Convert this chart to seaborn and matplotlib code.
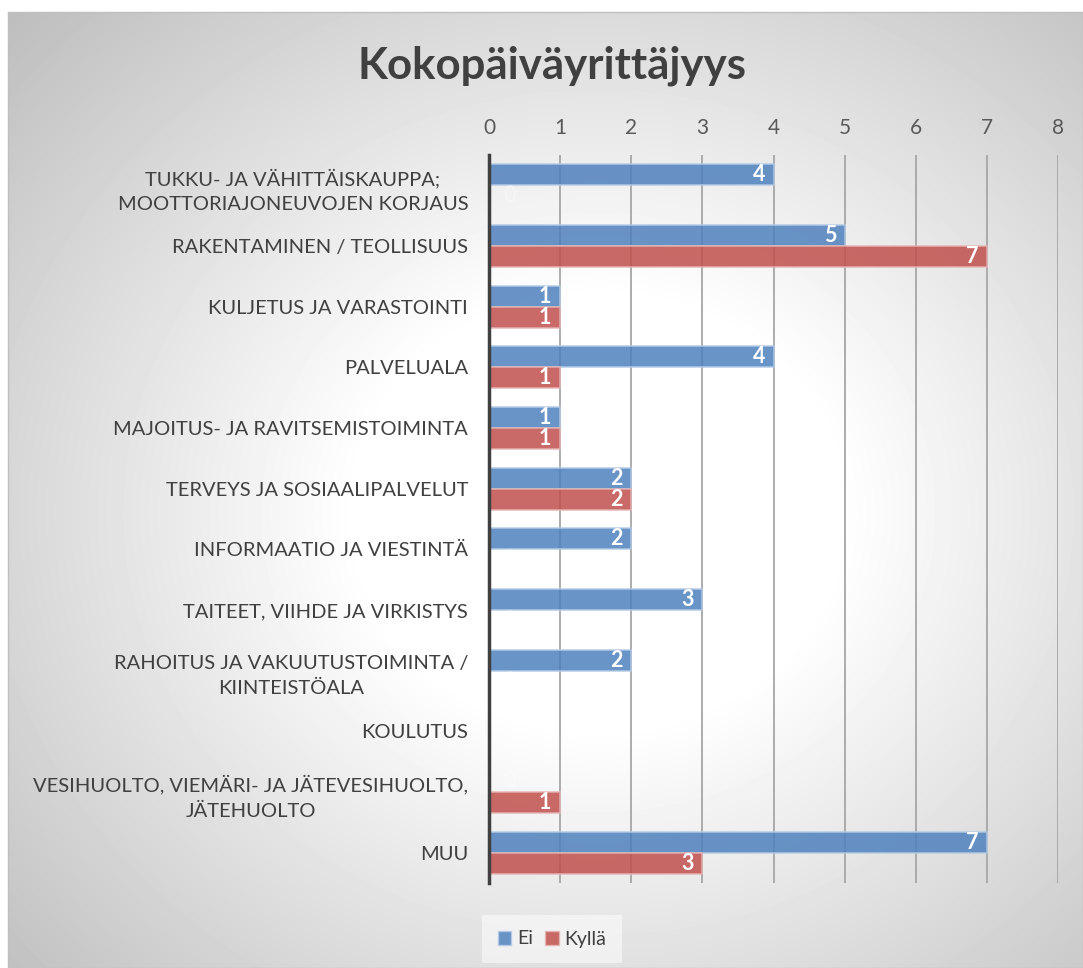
import matplotlib
matplotlib.use("Agg")
import matplotlib.pyplot as plt
import seaborn as sns
import numpy as np
import pandas as pd

# Chart data
categories = [
    "TUKKU- JA VÄHITTÄISKAUPPA;\nMOOTTORIAJONEUVOJEN KORJAUS",
    "RAKENTAMINEN / TEOLLISUUS",
    "KULJETUS JA VARASTOINTI",
    "PALVELUALA",
    "MAJOITUS- JA RAVITSEMISTOIMINTA",
    "TERVEYS JA SOSIAALIPALVELUT",
    "INFORMAATIO JA VIESTINTÄ",
    "TAITEET, VIIHDE JA VIRKISTYS",
    "RAHOITUS JA VAKUUTUSTOIMINTA /\nKIINTEISTÖALA",
    "KOULUTUS",
    "VESIHUOLTO, VIEMÄRI- JA JÄTEVESIHUOLTO,\nJÄTEHUOLTO",
    "MUU",
]
ei_values = [4, 5, 1, 4, 1, 2, 2, 3, 2, 0, 0, 7]
kylla_values = [0, 7, 1, 1, 1, 2, 0, 0, 0, 0, 1, 3]
series_names = ["Ei", "Kyllä"]
x_ticks = [0, 1, 2, 3, 4, 5, 6, 7, 8]

colors = {"Ei": "#4F81BD", "Kyllä": "#C0504D"}
edge_colors = {"Ei": "#b4cae6", "Kyllä": "#e6b4b3"}

df = pd.DataFrame({
    "kategoria": categories * 2,
    "vastaus": [series_names[0]] * len(categories) + [series_names[1]] * len(categories),
    "maara": ei_values + kylla_values,
})

sns.set_style("white")
plt.rcParams["font.family"] = ["Lato", "DejaVu Sans"]

fig = plt.figure(figsize=(10.83, 9.68), dpi=100)

# radial grey background like the office chart style
bg = fig.add_axes([8 / 1083, 0, 1 - 8 / 1083, 1 - 12 / 968], zorder=-5)
h, w = 956, 1075
yy, xx = np.mgrid[0:h, 0:w]
r = np.sqrt(((xx - 590) / (w / 2)) ** 2 + ((yy - 500) / (h / 2)) ** 2)
shade = 255 - 62 * np.clip(r - 0.45, 0, None)
shade = np.clip(shade, 185, 255) / 255
bg.imshow(shade, cmap="gray", vmin=0, vmax=1, aspect="auto", interpolation="bilinear")
bg.set_xticks([])
bg.set_yticks([])
for s in bg.spines.values():
    s.set_color("#bfbfbf")
    s.set_linewidth(1)

ax = fig.add_axes([489 / 1083, 85 / 968, (1058 - 489) / 1083, (883 - 155) / 968])
ax.set_facecolor("none")

sns.barplot(
    data=df, y="kategoria", x="maara", hue="vastaus", hue_order=series_names,
    order=categories, orient="h", palette=colors, saturation=1, width=0.69,
    alpha=0.85, linewidth=1.2, ax=ax, legend=False,
)

for name, cont in zip(series_names, ax.containers):
    for p in cont.patches:
        p.set_edgecolor(edge_colors[name])
        val = p.get_width()
        yc = p.get_y() + p.get_height() / 2
        if val > 0:
            ax.text(val - 0.12, yc, f"{val:.0f}", ha="right", va="center",
                    color="white", fontsize=15.5, fontweight="bold")
        else:
            # zero labels are white on white, barely visible
            ax.text(0.2, yc, "0", ha="left", va="center", alpha=0.3,
                    color="white", fontsize=15.5, fontweight="bold")

ax.set_xlim(0, 8)
ax.set_xticks(x_ticks)
ax.xaxis.tick_top()
ax.tick_params(axis="x", length=0, pad=12, labelsize=15, labelcolor="#595959")
ax.tick_params(axis="y", length=0, pad=15, labelsize=14.5, labelcolor="#404040")
for lbl in ax.get_yticklabels():
    lbl.set_multialignment("center")
    lbl.set_linespacing(1.55)
ax.set_xlabel("")
ax.set_ylabel("")
ax.xaxis.grid(True, color="#a6a6a6", linewidth=1.3)
ax.set_axisbelow(True)
for side in ["top", "right", "bottom"]:
    ax.spines[side].set_visible(False)
ax.spines["left"].set_color("#404040")
ax.spines["left"].set_linewidth(2.5)

fig.text(552 / 1083, 1 - 66 / 968, "Kokopäiväyrittäjyys", ha="center", va="center",
         fontsize=31.5, fontweight="bold", color="#404040")

handles = [plt.Rectangle((0, 0), 1, 1, facecolor=colors[n], alpha=0.85,
                         edgecolor=edge_colors[n]) for n in series_names]
leg = fig.legend(handles, series_names, loc="center", bbox_to_anchor=(552 / 1083, 1 - 939 / 968),
                 ncol=2, fontsize=14, frameon=True, handlelength=0.7, handleheight=0.7,
                 handletextpad=0.3, columnspacing=0.6, borderpad=0.8, fancybox=False)
leg.get_frame().set_facecolor("white")
leg.get_frame().set_alpha(0.5)
leg.get_frame().set_edgecolor("none")
for t in leg.get_texts():
    t.set_color("#404040")

fig.savefig("out.png", dpi=100, facecolor="white")
